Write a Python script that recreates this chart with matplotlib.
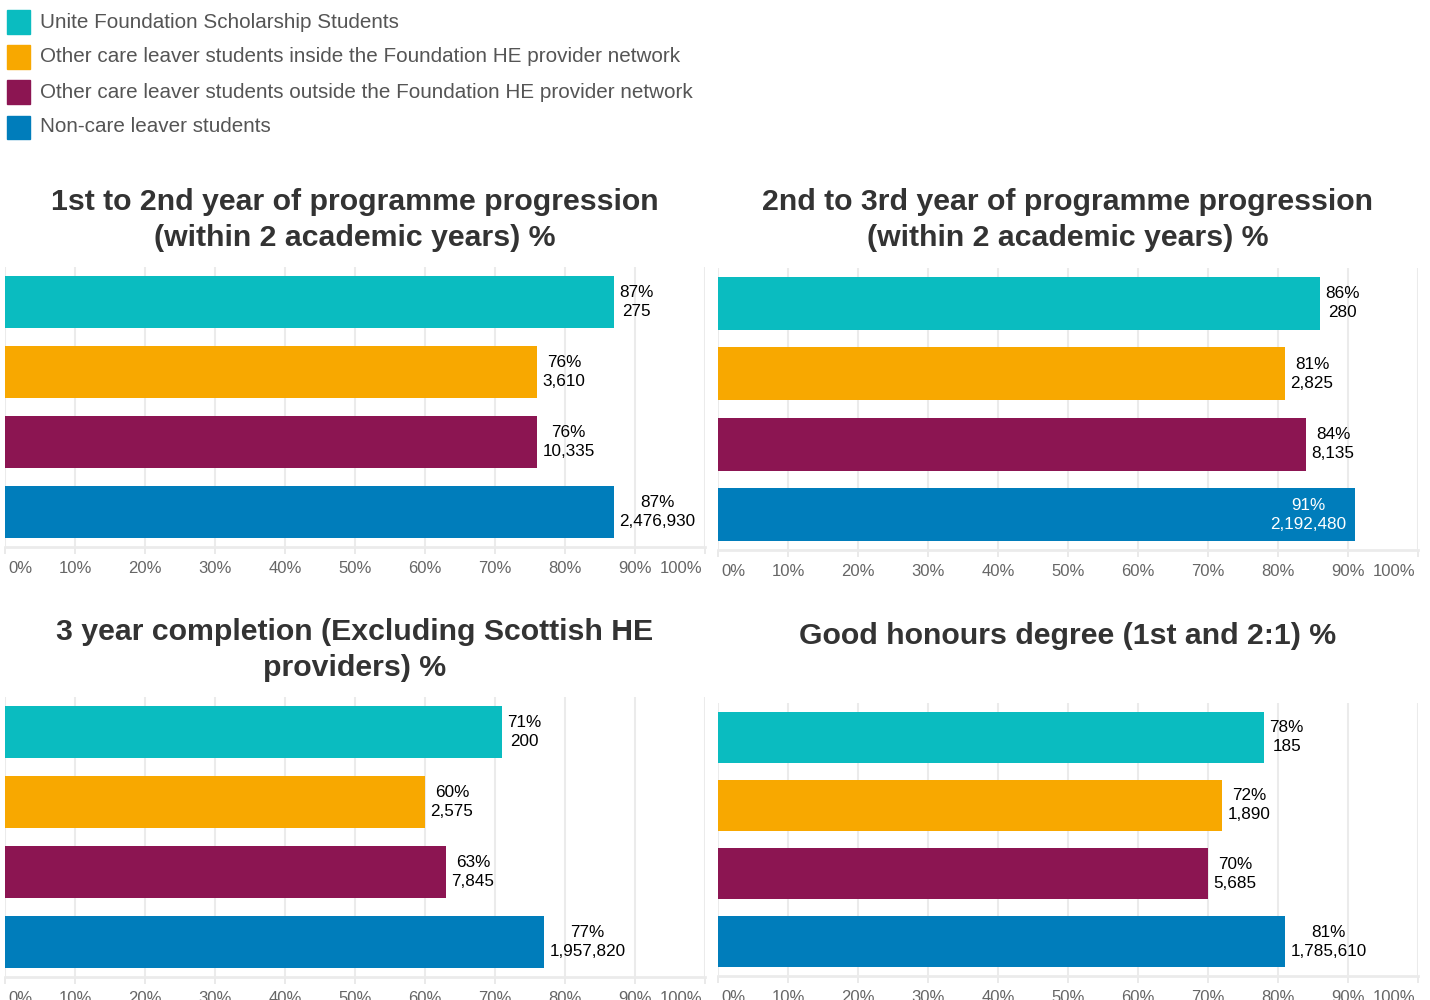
import matplotlib
matplotlib.use("Agg")
import matplotlib.pyplot as plt
from matplotlib.patches import Rectangle
import matplotlib.transforms as mtransforms

plt.rcParams['font.family'] = ['Liberation Sans', 'DejaVu Sans']

# groups and their colours
groups = ["Unite Foundation Scholarship Students",
          "Other care leaver students inside the Foundation HE provider network",
          "Other care leaver students outside the Foundation HE provider network",
          "Non-care leaver students"]
colors = ["#0ABCC0", "#F8A800", "#8C1552", "#007DBB"]

titles = ["1st to 2nd year of programme progression\n(within 2 academic years) %",
          "2nd to 3rd year of programme progression\n(within 2 academic years) %",
          "3 year completion (Excluding Scottish HE\nproviders) %",
          "Good honours degree (1st and 2:1) %"]

# percentages and student counts per measure
prog_1_2_pct = [87, 76, 76, 87]
prog_1_2_n = [275, 3610, 10335, 2476930]
prog_2_3_pct = [86, 81, 84, 91]
prog_2_3_n = [280, 2825, 8135, 2192480]
completion_pct = [71, 60, 63, 77]
completion_n = [200, 2575, 7845, 1957820]
honours_pct = [78, 72, 70, 81]
honours_n = [185, 1890, 5685, 1785610]

ticks = list(range(0, 101, 10))
tick_labels = [f"{t}%" for t in ticks]

W, H = 1430, 1000
fig = plt.figure(figsize=(W / 100, H / 100), dpi=100)

# legend at the top left
for i, (g, c) in enumerate(zip(groups, colors)):
    yc = 22 + 35 * i
    fig.patches.append(Rectangle((7 / W, 1 - (yc + 11.5) / H), 23 / W, 23 / H,
                                 transform=fig.transFigure, color=c))
    fig.text(40 / W, 1 - yc / H, g, fontsize=14.9, color="#555555",
             va="center", ha="left")

# panel boxes in pixels: left, top, bottom, title centre y
panels = [
    (5, 267, 547, 220, prog_1_2_pct, prog_1_2_n),
    (718, 268, 550, 220, prog_2_3_pct, prog_2_3_n),
    (5, 697, 977, 650, completion_pct, completion_n),
    (718, 703, 976, 636, honours_pct, honours_n),
]

for (x0, top, bot, ty, pct, n), title in zip(panels, titles):
    ax = fig.add_axes([x0 / W, 1 - bot / H, 700 / W, (bot - top) / H])
    ypos = range(len(pct))
    ax.barh(ypos, pct, height=0.75, color=colors, zorder=3)
    ax.set_xlim(0, 100)
    ax.set_ylim(3.5, -0.5)
    ax.set_yticks([])
    ax.set_xticks(ticks)
    ax.set_xticklabels(tick_labels, fontsize=12, color="#666666")
    ax.grid(axis="x", color="#EBEBEB", linewidth=1.5, zorder=0)
    for s in ["top", "right", "left"]:
        ax.spines[s].set_visible(False)
    ax.spines["bottom"].set_color("#EBEBEB")
    ax.spines["bottom"].set_linewidth(2)
    ax.tick_params(axis="x", length=5, width=1.2, color="#E6E6E6", pad=5)
    labels = ax.get_xticklabels()
    labels[0].set_ha("left")
    labels[0].set_transform(labels[0].get_transform() +
                            mtransforms.ScaledTranslation(3 / 100, 0, fig.dpi_scale_trans))
    labels[-1].set_ha("right")
    labels[-1].set_transform(labels[-1].get_transform() +
                             mtransforms.ScaledTranslation(-3 / 100, 0, fig.dpi_scale_trans))

    for y, p, k in zip(ypos, pct, n):
        txt = f"{p}%\n{k:,}"
        if p >= 90:
            ax.annotate(txt, (p, y), xytext=(-6, 0), textcoords="offset points",
                        ha="right", va="center", multialignment="center",
                        fontsize=12.3, color="white", linespacing=1.35, zorder=4)
        else:
            ax.annotate(txt, (p, y), xytext=(4, 0), textcoords="offset points",
                        ha="left", va="center", multialignment="center",
                        fontsize=12.3, color="black", linespacing=1.35, zorder=4)

    fig.text((x0 + 350) / W, 1 - ty / H, title, fontsize=21.8, fontweight="bold",
             color="#333333", ha="center", va="center", linespacing=1.38)

fig.savefig("out.png", dpi=100)
